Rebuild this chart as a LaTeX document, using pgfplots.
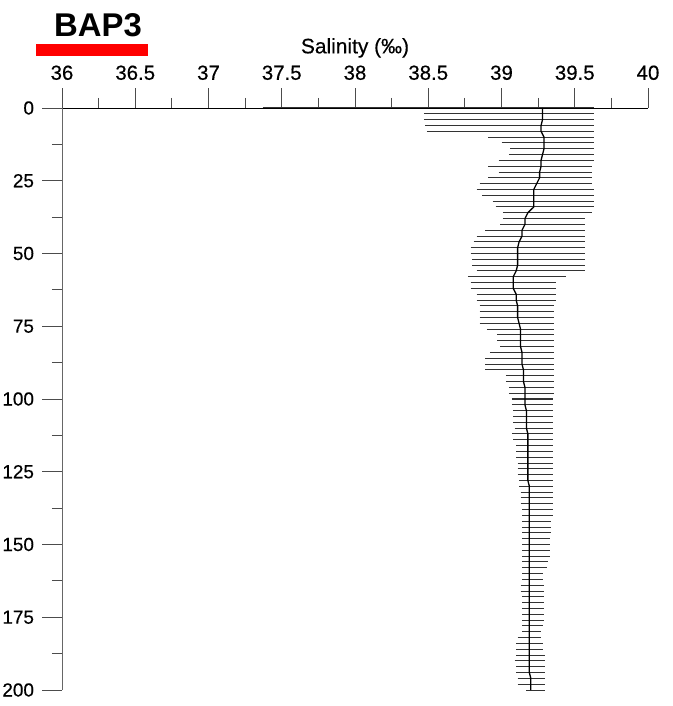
\documentclass[border=0pt]{standalone}
\usepackage{pgfplots}
\pgfplotsset{compat=1.18}
\usepackage{pgfplotstable}
\usepackage{fontspec}
\setmainfont{Liberation Sans}
\newfontface\labelfont{Liberation Sans}[FakeBold=0.4]

% Salinity profile at station BAP3: range (min--max) and mean per 2 m depth bin
\pgfplotstableread{
depth min max mean
0 37.37 39.63 39.28
2 38.47 39.63 39.28
4 38.47 39.63 39.28
6 38.48 39.63 39.27
8 38.49 39.63 39.27
10 38.91 39.63 39.29
12 39.00 39.63 39.29
14 39.06 39.63 39.29
16 39.05 39.63 39.28
18 38.98 39.63 39.27
20 38.91 39.62 39.27
22 38.98 39.62 39.26
24 38.91 39.62 39.26
26 38.85 39.62 39.24
28 38.83 39.63 39.22
30 38.87 39.63 39.22
32 38.94 39.63 39.22
34 38.96 39.63 39.22
36 39.01 39.62 39.18
38 39.01 39.57 39.16
40 38.99 39.57 39.16
42 38.89 39.57 39.14
44 38.83 39.57 39.14
46 38.81 39.57 39.12
48 38.79 39.57 39.11
50 38.79 39.57 39.11
52 38.80 39.57 39.11
54 38.80 39.57 39.11
56 38.83 39.57 39.10
58 38.77 39.44 39.08
60 38.79 39.37 39.08
62 38.79 39.37 39.08
64 38.83 39.37 39.10
66 38.83 39.37 39.10
68 38.85 39.36 39.11
70 38.85 39.36 39.11
72 38.85 39.36 39.11
74 38.85 39.36 39.12
76 38.90 39.36 39.13
78 38.97 39.36 39.13
80 38.97 39.36 39.13
82 38.99 39.36 39.13
84 38.92 39.36 39.14
86 38.89 39.36 39.14
88 38.89 39.36 39.14
90 38.89 39.36 39.15
92 39.03 39.36 39.15
94 39.03 39.36 39.15
96 39.05 39.36 39.16
98 39.05 39.36 39.16
100 39.07 39.35 39.16
102 39.07 39.35 39.16
104 39.08 39.35 39.17
106 39.08 39.35 39.17
108 39.08 39.35 39.17
110 39.09 39.35 39.17
112 39.07 39.35 39.18
114 39.08 39.35 39.18
116 39.10 39.35 39.18
118 39.10 39.35 39.18
120 39.10 39.35 39.18
122 39.11 39.35 39.18
124 39.11 39.35 39.18
126 39.11 39.35 39.18
128 39.12 39.35 39.18
130 39.12 39.35 39.19
132 39.13 39.35 39.19
134 39.13 39.35 39.19
136 39.13 39.35 39.19
138 39.14 39.35 39.19
140 39.14 39.35 39.19
142 39.14 39.34 39.19
144 39.14 39.34 39.19
146 39.14 39.34 39.19
148 39.14 39.33 39.19
150 39.14 39.33 39.19
152 39.14 39.33 39.19
154 39.14 39.33 39.19
156 39.14 39.32 39.19
158 39.14 39.31 39.19
160 39.14 39.28 39.19
162 39.14 39.28 39.19
164 39.13 39.29 39.19
166 39.13 39.29 39.19
168 39.14 39.29 39.19
170 39.14 39.29 39.19
172 39.14 39.29 39.19
174 39.14 39.29 39.19
176 39.14 39.29 39.19
178 39.14 39.28 39.19
180 39.14 39.27 39.19
182 39.11 39.27 39.19
184 39.10 39.28 39.19
186 39.10 39.28 39.19
188 39.10 39.30 39.19
190 39.09 39.30 39.19
192 39.10 39.30 39.19
194 39.10 39.30 39.19
196 39.11 39.30 39.20
198 39.11 39.30 39.20
200 39.17 39.30 39.20
}\bapthree

\begin{document}
\begin{tikzpicture}[x=1bp,y=1bp]
\useasboundingbox (0,0) rectangle (673,706);
% station name and colour key
\node[font=\fontsize{33}{36}\selectfont\bfseries] at (98,681) {BAP3};
\fill[red] (36,650) rectangle (148,662);
\begin{axis}[
  at={(62bp,16bp)}, anchor=south west,
  scale only axis, width=586bp, height=582bp,
  xmin=36, xmax=40, ymin=0, ymax=200,
  y dir=reverse,
  axis x line=top, axis y line=left,
  axis line style={-},
  x axis line style={black},
  y axis line style={black!60},
  xtick={36,36.5,37,37.5,38,38.5,39,39.5,40},
  xticklabels={36,36.5,37,37.5,38,38.5,39,39.5,40},
  ytick={0,25,50,75,100,125,150,175,200},
  minor x tick num=1, minor y tick num=1,
  tick align=outside,
  major tick length=19.5bp, minor tick length=10bp,
  x tick style={black!70, line width=0.8bp},
  y tick style={black!70, line width=0.8bp},
  /pgf/number format/assume math mode=true,
  xticklabel style={font=\labelfont\fontsize{20.5}{24}\selectfont, yshift=5bp},
  yticklabel style={font=\labelfont\fontsize{19}{22}\selectfont, xshift=-5bp},
  xlabel={Salinity (‰)},
  xlabel style={font=\labelfont\fontsize{21}{24}\selectfont, yshift=1bp},
  clip=false,
]
% min--max range at each depth
\addplot[black!80, line width=1bp, quiver={u={\thisrow{max}-\thisrow{min}}, v=0}]
  table[x=min, y=depth] {\bapthree};
% mean profile
\addplot[black, line width=1.3bp, mark=none] table[x=mean, y=depth] {\bapthree};
\end{axis}
\end{tikzpicture}
\end{document}
